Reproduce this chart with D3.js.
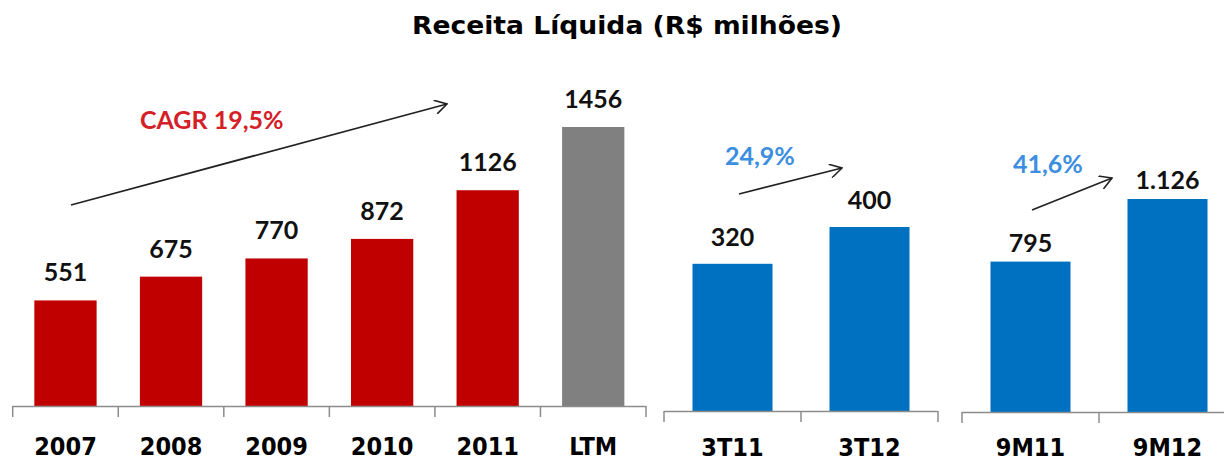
<!DOCTYPE html>
<html>
<head>
<meta charset="utf-8">
<script src="https://cdn.jsdelivr.net/npm/d3@7"></script>
<style>
    body { margin: 0; background: #fff; }
    .title { font-family: 'DejaVu Sans', Verdana, sans-serif; font-weight: bold; font-size: 25px; }
    .cat { font-family: 'DejaVu Sans Condensed', 'DejaVu Sans', sans-serif; font-stretch: condensed; font-weight: bold; font-size: 25px; fill: #000; }
    .val { font-family: Lato, sans-serif; font-weight: bold; font-size: 25px; fill: #111; }
    .note { font-family: Lato, sans-serif; font-weight: bold; font-size: 25px; }
</style>
</head>
<body>
<svg width="1224" height="463"></svg>
<script>
// Annual revenue (R$ millions)
var years = ['2007', '2008', '2009', '2010', '2011', 'LTM'];
var yearValues = [551, 675, 770, 872, 1126, 1456];
var yearLabels = ['551', '675', '770', '872', '1126', '1456'];

// Quarter comparison
var quarters = ['3T11', '3T12'];
var quarterValues = [320, 400];
var quarterLabels = ['320', '400'];

// Nine-month comparison
var nineMonths = ['9M11', '9M12'];
var nineMonthValues = [795, 1126];
var nineMonthLabels = ['795', '1.126'];

var svg = d3.select('svg');

svg.append('text')
    .attr('class', 'title')
    .attr('x', 627)
    .attr('y', 34)
    .attr('text-anchor', 'middle')
    .attr('textLength', 430)
    .attr('lengthAdjust', 'spacingAndGlyphs')
    .text('Receita Líquida (R$ milhões)');

// one panel = band scale on x, linear scale on y, own baseline
function drawPanel(cfg) {
    var x = d3.scaleBand()
        .domain(cfg.cats)
        .range([cfg.x0, cfg.x1])
        .paddingInner(cfg.pad)
        .paddingOuter(cfg.pad / 2);

    var y = d3.scaleLinear()
        .domain([0, cfg.refValue])
        .range([cfg.base, cfg.refTop]);

    var g = svg.append('g');

    g.selectAll('rect')
        .data(cfg.values)
        .enter()
        .append('rect')
        .attr('x', (d, i) => x(cfg.cats[i]))
        .attr('y', d => y(d))
        .attr('width', x.bandwidth())
        .attr('height', d => y(0) - y(d))
        .attr('fill', (d, i) => cfg.colors[i]);

    g.selectAll('.val')
        .data(cfg.values)
        .enter()
        .append('text')
        .attr('class', 'val')
        .attr('text-anchor', 'middle')
        .attr('x', (d, i) => x(cfg.cats[i]) + x.bandwidth() / 2)
        .attr('y', d => y(d) - cfg.labelGap)
        .text((d, i) => cfg.labels[i]);

    // axis: domain line plus ticks at band edges
    var edges = d3.range(cfg.cats.length + 1).map(i => cfg.x0 + i * x.step());
    g.append('line')
        .attr('x1', cfg.x0).attr('x2', cfg.x1)
        .attr('y1', y(0) + 0.5).attr('y2', y(0) + 0.5)
        .attr('stroke', '#8c8c8c').attr('stroke-width', 1.5);
    g.selectAll('.tick')
        .data(edges)
        .enter()
        .append('line')
        .attr('x1', d => d).attr('x2', d => d)
        .attr('y1', y(0)).attr('y2', y(0) + 11)
        .attr('stroke', '#8c8c8c').attr('stroke-width', 1.5);

    var axis = d3.axisBottom(x).tickSize(0).tickPadding(0);
    var ax = g.append('g')
        .attr('transform', 'translate(0,' + cfg.catBaseline + ')')
        .call(axis);
    ax.select('.domain').remove();
    ax.selectAll('text')
        .attr('class', 'cat')
        .attr('dy', 0)
        .attr('y', 0)
        .style('font-family', null).style('font-size', null);
    ax.attr('font-family', null).attr('font-size', null);

    return {x: x, y: y};
}

drawPanel({
    cats: years, values: yearValues, labels: yearLabels,
    colors: ['#c00000', '#c00000', '#c00000', '#c00000', '#c00000', '#808080'],
    x0: 12.7, x1: 646, pad: 0.41, base: 406, refValue: 1456, refTop: 127,
    labelGap: 19, catBaseline: 455
});
drawPanel({
    cats: quarters, values: quarterValues, labels: quarterLabels,
    colors: ['#0070c0', '#0070c0'],
    x0: 664, x1: 938, pad: 0.416, base: 411, refValue: 400, refTop: 227,
    labelGap: 18, catBaseline: 456
});
drawPanel({
    cats: nineMonths, values: nineMonthValues, labels: nineMonthLabels,
    colors: ['#0070c0', '#0070c0'],
    x0: 962, x1: 1236, pad: 0.416, base: 412, refValue: 1126, refTop: 199,
    labelGap: 10, catBaseline: 456
});

// growth annotations
var arrows = [
    {from: [71, 205], to: [447, 104], text: 'CAGR 19,5%', tx: 140, ty: 129, color: '#d42027'},
    {from: [739, 194], to: [842, 168], text: '24,9%', tx: 725, ty: 165, color: '#3b8ee0'},
    {from: [1032, 210], to: [1112, 178], text: '41,6%', tx: 1013, ty: 173, color: '#3b8ee0'}
];

svg.append('defs').append('marker')
    .attr('id', 'head')
    .attr('viewBox', '0 0 14 14')
    .attr('refX', 13).attr('refY', 7)
    .attr('markerWidth', 14).attr('markerHeight', 14)
    .attr('markerUnits', 'userSpaceOnUse')
    .attr('orient', 'auto')
    .append('path')
    .attr('d', 'M1,0 L13,7 L1,14')
    .attr('fill', 'none')
    .attr('stroke', '#222')
    .attr('stroke-width', 1.6);

svg.selectAll('.arrow')
    .data(arrows)
    .enter()
    .append('line')
    .attr('class', 'arrow')
    .attr('x1', d => d.from[0]).attr('y1', d => d.from[1])
    .attr('x2', d => d.to[0]).attr('y2', d => d.to[1])
    .attr('stroke', '#222')
    .attr('stroke-width', 1.8)
    .attr('marker-end', 'url(#head)');

svg.selectAll('.note')
    .data(arrows)
    .enter()
    .append('text')
    .attr('class', 'note')
    .attr('x', d => d.tx)
    .attr('y', d => d.ty)
    .attr('fill', d => d.color)
    .text(d => d.text);
</script>
</body>
</html>
